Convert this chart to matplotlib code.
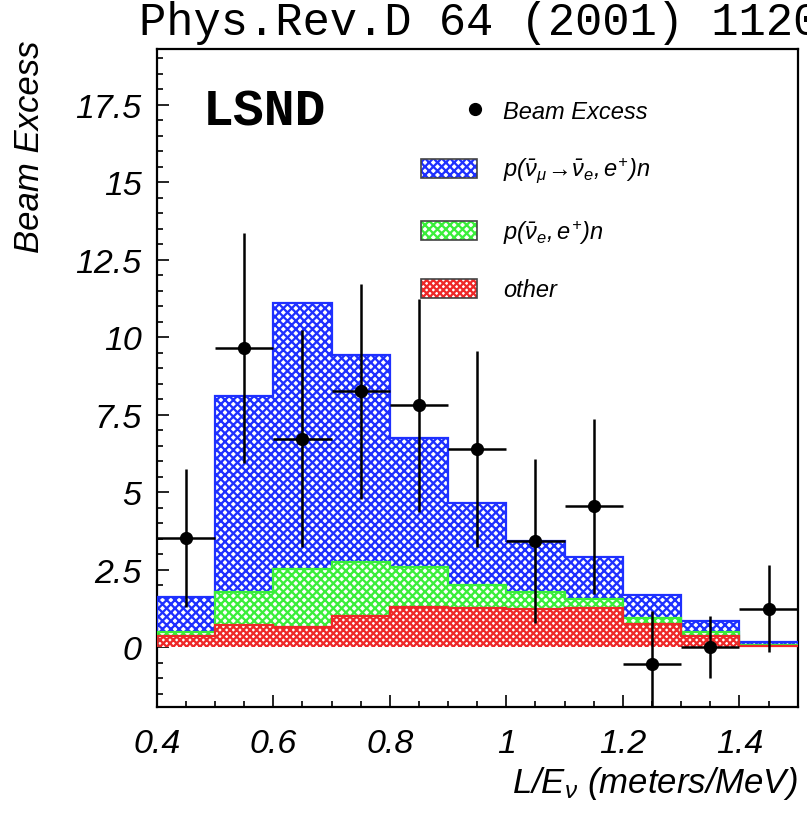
import numpy as np
import matplotlib
matplotlib.use("Agg")
import matplotlib.pyplot as plt
from matplotlib.patches import Patch
from matplotlib.lines import Line2D
from matplotlib.legend_handler import HandlerBase
from matplotlib.ticker import MultipleLocator, FormatStrFormatter

# ---------------- data ----------------
bin_edges = [0.4, 0.5, 0.6, 0.7, 0.8, 0.9, 1.0, 1.1, 1.2, 1.3, 1.4, 1.5]
# stacked components (bottom -> top)
other = [0.36, 0.70, 0.65, 1.02, 1.31, 1.26, 1.22, 1.25, 0.75, 0.37, 0.03]
nuebar_bg = [0.12, 1.07, 1.88, 1.72, 1.27, 0.75, 0.55, 0.31, 0.19, 0.13, 0.03]
oscillation = [1.13, 6.33, 8.57, 6.69, 4.17, 2.64, 1.65, 1.34, 0.76, 0.34, 0.10]
# beam excess data points
beam_excess = [3.53, 9.65, 6.72, 8.25, 7.80, 6.40, 3.42, 4.54, -0.55, 0.00, 1.24]
beam_excess_err = [2.22, 3.70, 3.50, 3.47, 3.44, 3.17, 2.65, 2.82, 1.73, 1.00, 1.40]

labels = ["Beam Excess",
          r"$p(\bar{\nu}_{\mu}\!\rightarrow\!\bar{\nu}_{e},e^{+})n$",
          r"$p(\bar{\nu}_{e},e^{+})n$",
          "other"]

# ---------------- style ----------------
plt.rcParams['font.family'] = ['Liberation Sans', 'DejaVu Sans']
plt.rcParams['font.style'] = 'italic'
plt.rcParams['mathtext.fontset'] = 'custom'
plt.rcParams['mathtext.it'] = 'Liberation Sans:italic'
plt.rcParams['mathtext.rm'] = 'Liberation Sans:italic'
plt.rcParams['mathtext.sf'] = 'Liberation Sans:italic'
plt.rcParams['hatch.linewidth'] = 1.65

BLUE = '#1e30ff'
GREEN = '#3aee3a'
RED = '#ee2828'
HATCH_BLUE = 'xxxx'
HATCH_GREEN = 'xxxx'
HATCH_RED = 'xxxxx'

edges = np.array(bin_edges)
left = edges[:-1]
width = np.diff(edges)
centers = left + width / 2

red_top = np.array(other)
green_top = red_top + np.array(nuebar_bg)
blue_top = green_top + np.array(oscillation)

fig = plt.figure(figsize=(8.07, 8.2), dpi=100)
ax = fig.add_axes([0.1942, 0.1362, 0.7943, 0.8028])

for top, col, hatch in [(blue_top, BLUE, HATCH_BLUE), (green_top, GREEN, HATCH_GREEN),
                        (red_top, RED, HATCH_RED)]:
    ax.bar(left, top, width=width, align='edge', facecolor='white',
           edgecolor=col, hatch=hatch, linewidth=0, zorder=2)
    ax.stairs(top, edges, color=col, linewidth=1.6, zorder=3)

ax.errorbar(centers, beam_excess, xerr=width / 2, yerr=beam_excess_err,
            fmt='o', color='black', ms=8.5, elinewidth=1.8, capsize=0, zorder=5)

ax.set_xlim(0.4, 1.5)
ax.set_ylim(-1.94, 19.3)

ax.xaxis.set_major_locator(MultipleLocator(0.2))
ax.xaxis.set_minor_locator(MultipleLocator(0.05))
ax.yaxis.set_major_locator(MultipleLocator(2.5))
ax.yaxis.set_minor_locator(MultipleLocator(0.5))
ax.xaxis.set_major_formatter(FormatStrFormatter('%g'))
ax.yaxis.set_major_formatter(FormatStrFormatter('%g'))
ax.tick_params(which='both', direction='in', top=False, right=False, width=1.2, labelsize=24.5)
ax.tick_params(which='major', length=8.6)
ax.tick_params(which='minor', length=4.3)
ax.tick_params(axis='x', which='major', pad=15)
ax.tick_params(axis='y', which='major', pad=11)
for s in ax.spines.values():
    s.set_linewidth(1.6)

ax.set_ylabel('Beam Excess', fontsize=25, loc='top')
ax.yaxis.set_label_coords(-0.172, 1.015)
ax.set_xlabel(r'L/E$_{\nu}$ (meters/MeV)', fontsize=25, loc='right')
ax.xaxis.set_label_coords(1.0, -0.086)

ax.text(0.072, 0.905, 'LSND', transform=ax.transAxes, family='Liberation Mono',
        weight='bold', style='normal', fontsize=37, va='center', ha='left')

fig.text(0.172, 0.957, 'Phys.Rev.D 64 (2001) 112007', family='Liberation Mono',
         style='normal', fontsize=32.8, va='baseline', ha='left')


class DotRight(HandlerBase):
    def create_artists(self, legend, orig_handle, xdescent, ydescent,
                       width, height, fontsize, trans):
        ln = Line2D([width - xdescent - 2], [(height - ydescent) / 2], ls='none',
                    marker='o', color='black', markersize=8.5, transform=trans)
        return [ln]


dot = Line2D([], [], ls='none', marker='o', color='black')
outline = Patch(facecolor='none', edgecolor='#444444', linewidth=1.2)
h_blue = (Patch(facecolor='white', edgecolor=BLUE, hatch=HATCH_BLUE, linewidth=0), outline)
h_green = (Patch(facecolor='white', edgecolor=GREEN, hatch=HATCH_GREEN, linewidth=0), outline)
h_red = (Patch(facecolor='white', edgecolor=RED, hatch=HATCH_RED, linewidth=0), outline)

leg = ax.legend([dot, h_blue, h_green, h_red], labels,
                handler_map={dot: DotRight()},
                loc='upper left', bbox_to_anchor=(0.412, 0.922),
                frameon=False, fontsize=17, borderpad=0, borderaxespad=0,
                handlelength=2.4, handleheight=0.88, handletextpad=1.1,
                labelspacing=1.38)

fig.savefig('out.png', dpi=100)
